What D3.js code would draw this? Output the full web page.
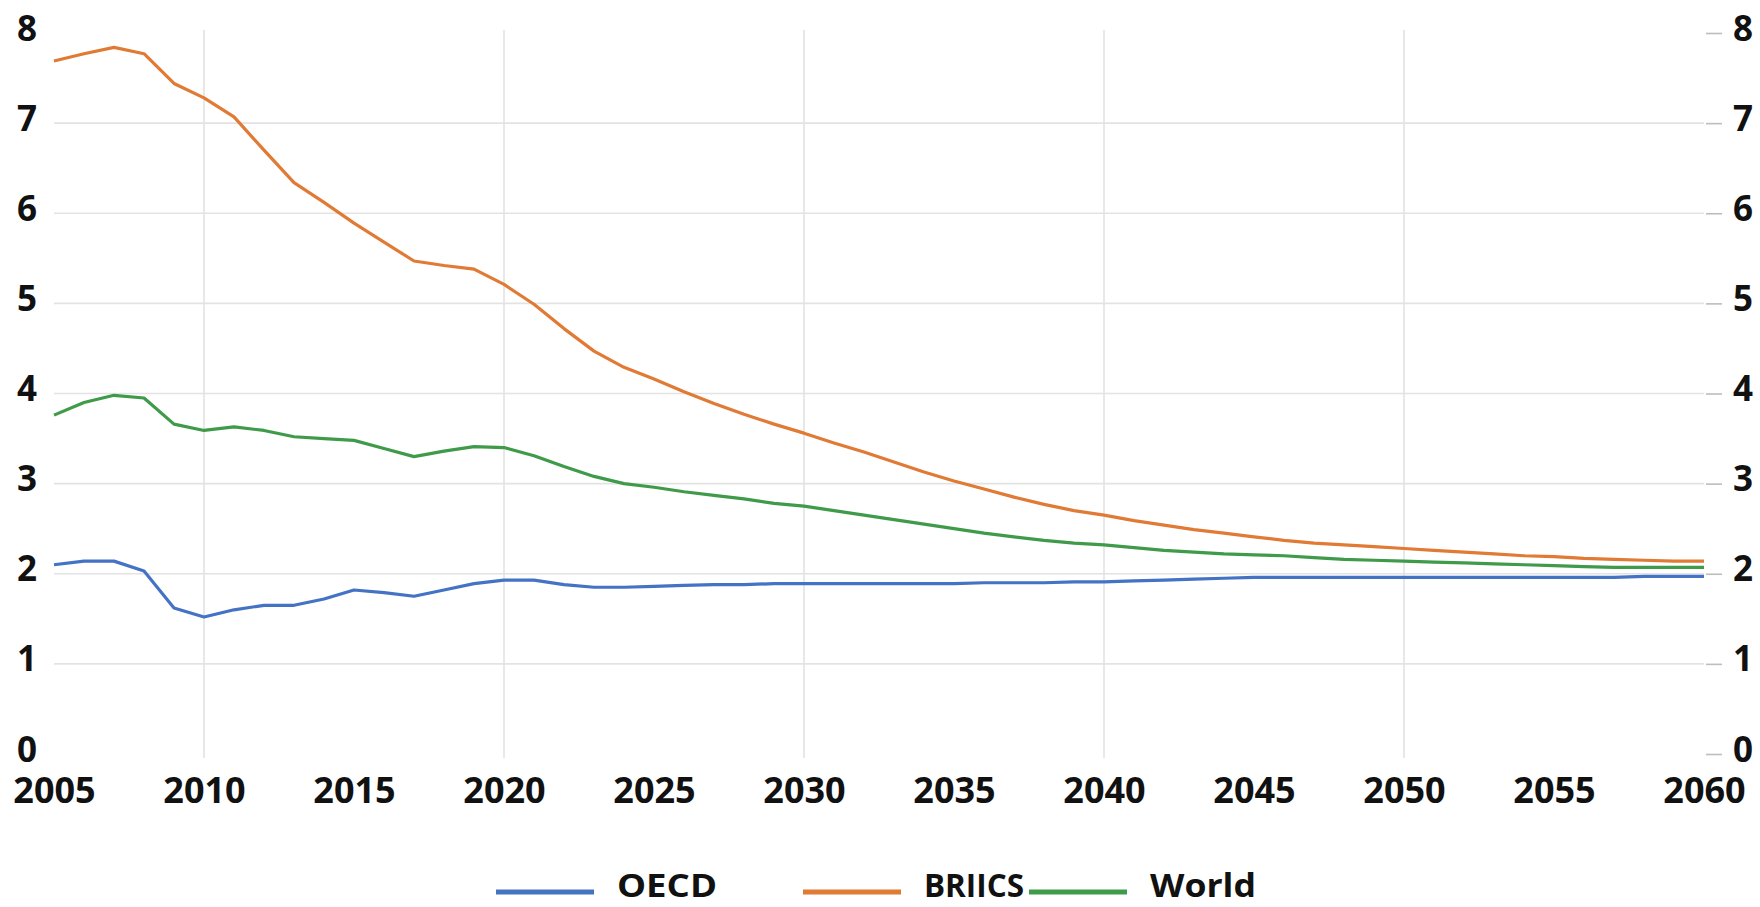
<!DOCTYPE html>
<html>
<head>
<meta charset="utf-8">
<script src="https://cdn.jsdelivr.net/npm/d3@7"></script>
<style>
  body { margin: 0; background: #fff; }
  svg text { font-family: "Open Sans", sans-serif; font-weight: 700; fill: #111; }
</style>
</head>
<body>
<svg class="chart" width="1760" height="907"></svg>
<script>
// Years on the x axis
var years = d3.range(2005, 2061);
var xTicks = [2005, 2010, 2015, 2020, 2025, 2030, 2035, 2040, 2045, 2050, 2055, 2060];
var xGrid = [2010, 2020, 2030, 2040, 2050];
var yTicks = [0, 1, 2, 3, 4, 5, 6, 7, 8];

// Series values
var oecd = [2.10, 2.14, 2.14, 2.03, 1.62, 1.52, 1.60, 1.65, 1.65, 1.72, 1.82, 1.79, 1.75, 1.82, 1.89, 1.93,
    1.93, 1.88, 1.85, 1.85, 1.86, 1.87, 1.88, 1.88, 1.89, 1.89,
    1.89, 1.89, 1.89, 1.89, 1.89, 1.90, 1.90, 1.90, 1.91, 1.91,
    1.92, 1.93, 1.94, 1.95, 1.96, 1.96, 1.96, 1.96, 1.96, 1.96,
    1.96, 1.96, 1.96, 1.96, 1.96, 1.96, 1.96, 1.97, 1.97, 1.97];
var briics = [7.69, 7.77, 7.84, 7.77, 7.44, 7.28, 7.07, 6.70, 6.34, 6.12, 5.89, 5.68, 5.47, 5.42, 5.38, 5.21,
    4.99, 4.72, 4.47, 4.29, 4.16, 4.02, 3.89, 3.77, 3.66, 3.56,
    3.45, 3.35, 3.24, 3.13, 3.03, 2.94, 2.85, 2.77, 2.70, 2.65,
    2.59, 2.54, 2.49, 2.45, 2.41, 2.37, 2.34, 2.32, 2.30, 2.28,
    2.26, 2.24, 2.22, 2.20, 2.19, 2.17, 2.16, 2.15, 2.14, 2.14];
var world = [3.76, 3.90, 3.98, 3.95, 3.66, 3.59, 3.63, 3.59, 3.52, 3.50, 3.48, 3.39, 3.30, 3.36, 3.41, 3.40,
    3.31, 3.19, 3.08, 3.00, 2.96, 2.91, 2.87, 2.83, 2.78, 2.75,
    2.70, 2.65, 2.60, 2.55, 2.50, 2.45, 2.41, 2.37, 2.34, 2.32,
    2.29, 2.26, 2.24, 2.22, 2.21, 2.20, 2.18, 2.16, 2.15, 2.14,
    2.13, 2.12, 2.11, 2.10, 2.09, 2.08, 2.07, 2.07, 2.07, 2.07];

var seriesNames = ["OECD", "BRIICS", "World"];
var seriesColors = ["#4472C4", "#E07A35", "#3F9A4A"];
var seriesValues = [oecd, briics, world];

var svg = d3.select(".chart"),
    margin = {top: 33, right: 56, bottom: 153, left: 54},
    width = +svg.attr("width") - margin.left - margin.right,
    height = +svg.attr("height") - margin.top - margin.bottom;

var x = d3.scaleLinear().domain([2005, 2060]).range([0, width]),
    y = d3.scaleLinear().domain([0, 8]).range([height, 0]);

var g = svg.append("g")
    .attr("transform", "translate(" + margin.left + "," + margin.top + ")");

// Horizontal gridlines (none at 0 and 8)
g.selectAll(".hgrid")
    .data(yTicks.filter(function(d) { return d > 0 && d < 8; }))
    .enter().append("line")
    .attr("x1", 0).attr("x2", width)
    .attr("y1", function(d) { return y(d); })
    .attr("y2", function(d) { return y(d); })
    .attr("stroke", "#e3e3e3").attr("stroke-width", 1.6);

// Vertical gridlines every ten years
g.selectAll(".vgrid")
    .data(xGrid)
    .enter().append("line")
    .attr("x1", function(d) { return x(d); })
    .attr("x2", function(d) { return x(d); })
    .attr("y1", -3).attr("y2", height + 4)
    .attr("stroke", "#e3e3e3").attr("stroke-width", 1.6);

// Left axis
var left = g.append("g").call(d3.axisLeft(y).tickValues(yTicks).tickSize(0).tickPadding(0));
left.select(".domain").remove();
left.selectAll("text")
    .attr("x", -27).attr("dy", "0.2em")
    .style("text-anchor", "middle")
    .style("font-size", "35px")
    .style("font-family", null);

// Right axis
var right = g.append("g")
    .attr("transform", "translate(" + width + ",0)")
    .call(d3.axisRight(y).tickValues(yTicks).tickSize(0).tickPadding(0));
right.select(".domain").remove();
right.selectAll(".tick line")
    .attr("x1", 2).attr("x2", 18)
    .attr("stroke", "#bdbdbd").attr("stroke-width", 1.6);
right.selectAll("text")
    .attr("x", 39).attr("dy", "0.2em")
    .style("text-anchor", "middle")
    .style("font-size", "35px")
    .style("font-family", null);

// Bottom axis
var bottom = g.append("g")
    .attr("transform", "translate(0," + height + ")")
    .call(d3.axisBottom(x).tickValues(xTicks).tickFormat(d3.format("d")).tickSize(0).tickPadding(0));
bottom.select(".domain").remove();
bottom.selectAll("text")
    .attr("y", 49).attr("dy", 0)
    .style("font-size", "36px")
    .style("font-family", null);

// Lines
var line = d3.line()
    .x(function(d, i) { return x(years[i]); })
    .y(function(d) { return y(d); });

seriesValues.forEach(function(vals, i) {
    g.append("path")
        .datum(vals)
        .attr("fill", "none")
        .attr("stroke", seriesColors[i])
        .attr("stroke-width", 3.2)
        .attr("stroke-linejoin", "round")
        .attr("d", line);
});

// Legend
var legendX = [496, 803, 1029];
var legendW = [100, 100, 106];
var legend = svg.append("g");
seriesNames.forEach(function(name, i) {
    legend.append("line")
        .attr("x1", legendX[i]).attr("x2", legendX[i] + 98)
        .attr("y1", 892).attr("y2", 892)
        .attr("stroke", seriesColors[i]).attr("stroke-width", 5);
    legend.append("text")
        .attr("x", legendX[i] + 121).attr("y", 897)
        .attr("textLength", legendW[i])
        .attr("lengthAdjust", "spacingAndGlyphs")
        .style("font-size", "33px")
        .text(name);
});
</script>
</body>
</html>
